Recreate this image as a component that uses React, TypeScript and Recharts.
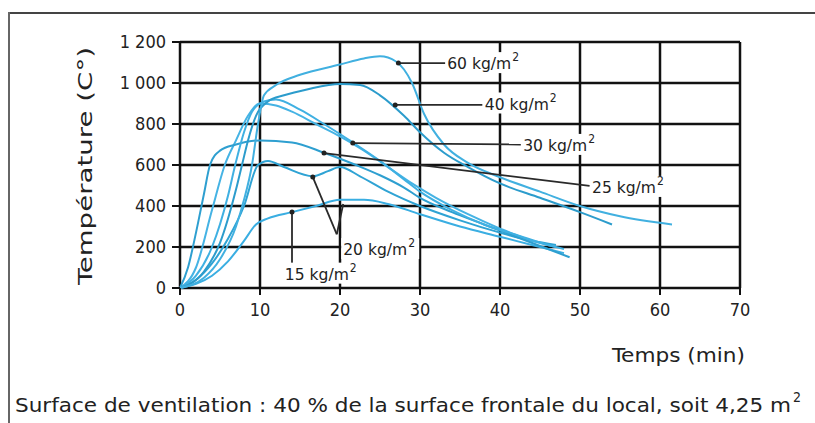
import { CartesianGrid, Line, LineChart, ReferenceDot, ReferenceLine, XAxis, YAxis } from "recharts";

// temps (min) / température (°C) pour chaque charge calorifique
const time15 = [0, 2, 4, 6, 8, 9.5, 11, 14, 17, 20, 23, 26, 30, 35, 40, 44, 48];
const temp15 = [0, 20, 60, 130, 230, 310, 340, 370, 400, 430, 430, 410, 360, 300, 250, 210, 170];

const time20 = [0, 2, 4, 6, 8, 9.75, 11, 13, 16.6, 18.5, 20, 22.5, 26, 30, 35, 40, 44, 47];
const temp20 = [0, 40, 120, 240, 400, 600, 620, 590, 545, 570, 590, 545, 470, 400, 330, 270, 230, 210];

const time20b = [0, 2, 4, 5.6, 7, 8.5, 10, 12, 14, 17, 20, 23, 26, 29, 32, 36, 40, 44, 47];
const temp20b = [0, 100, 380, 600, 720, 840, 900, 890, 860, 800, 740, 670, 590, 510, 440, 360, 290, 230, 200];

const time25 = [0, 1, 2, 3, 3.75, 5, 7, 10, 14, 18, 22, 25, 28, 30, 34, 38, 42, 46, 48.7];
const temp25 = [0, 100, 270, 460, 600, 670, 700, 720, 710, 660, 600, 550, 490, 440, 370, 310, 250, 190, 150];

const time30 = [0, 2, 4, 6, 6.9, 8, 9, 10.5, 12, 15, 18, 21.6, 25, 28, 30, 34, 38, 42, 46, 48];
const temp30 = [0, 60, 200, 450, 600, 760, 860, 910, 920, 870, 800, 710, 620, 530, 470, 380, 310, 260, 210, 190];

const time40 = [0, 3, 5, 7, 7.75, 8.5, 9.5, 11, 13, 16, 20, 22.5, 25, 28, 30, 33, 36, 40, 45, 50, 54];
const temp40 = [0, 80, 220, 480, 600, 720, 840, 910, 940, 970, 995, 990, 940, 840, 760, 660, 590, 510, 440, 370, 310];

const time60 = [0, 3, 5, 7, 8, 9, 9.75, 10.5, 12, 15, 20, 23, 25, 27, 29, 30.5, 33, 36, 40, 45, 50, 55, 61.5];
const temp60 = [0, 50, 140, 300, 430, 600, 800, 940, 990, 1040, 1090, 1120, 1130, 1105, 1000, 850, 700, 610, 540, 470, 400, 350, 310];

const xTicks = [0, 10, 20, 30, 40, 50, 60, 70];
const yTicks = [0, 200, 400, 600, 800, 1000, 1200];
const yTickLabels = ["0", "200", "400", "600", "800", "1 000", "1 200"];

const series = [
  { key: "15", t: time15, v: temp15, color: "#3aaee2" },
  { key: "20", t: time20, v: temp20, color: "#2fa3d4" },
  { key: "20b", t: time20b, v: temp20b, color: "#45b3e4" },
  { key: "25", t: time25, v: temp25, color: "#2e9fd0" },
  { key: "30", t: time30, v: temp30, color: "#3fb0e2" },
  { key: "40", t: time40, v: temp40, color: "#2c9ccc" },
  { key: "60", t: time60, v: temp60, color: "#41b0e0" },
];

// lignes de rappel : point sur la courbe -> étiquette
const leaders = [
  { name: "60", from: [27.3, 1097], to: [33.2, 1097], text: [33.4, 1097] },
  { name: "40", from: [26.9, 893], to: [37.8, 893], text: [38.1, 900] },
  { name: "30", from: [21.6, 707], to: [42.6, 700], text: [42.9, 698] },
  { name: "25", from: [18, 658], to: [51.2, 498], text: [51.5, 493] },
  { name: "20", from: [16.6, 541], to: [19.6, 262], text: [20.4, 190] },
  { name: "15", from: [14, 371], to: [14, 122], text: [13.1, 70] },
];
const extraLeader = { from: [20.4, 410], to: [19.6, 262] };

const FONT = "'DejaVu Sans Condensed', 'Liberation Sans Narrow', 'Arial Narrow', sans-serif";

const labelFor = (name: string) => (props: any) => {
  const vb = props.viewBox || {};
  const x = (vb.x ?? 0) + (vb.width ?? 0) / 2;
  const y = (vb.y ?? 0) + (vb.height ?? 0) / 2;
  return (
    <g>
      <rect x={x - 2} y={y - 11} width={78} height={21} fill="#fff" />
      <text x={x} y={y + 6} fontFamily={FONT} fontSize={16} fill="#222" textLength={64} lengthAdjust="spacingAndGlyphs">
        {name} kg/m
      </text>
      <text x={x + 65} y={y - 2} fontFamily={FONT} fontSize={12} fill="#222">
        2
      </text>
    </g>
  );
};

export default function App() {
  return (
    <div style={{ position: "absolute", left: 0, top: 0, width: 815, height: 423, background: "#fff", overflow: "hidden" }}>
      <div style={{ position: "absolute", left: 8, top: 12, width: 807, height: 2, background: "#444" }} />
      <div style={{ position: "absolute", left: 8, top: 12, width: 2, height: 411, background: "#666" }} />
      <LineChart width={815} height={423} margin={{ top: 42, right: 75, left: 120, bottom: 105 }}>
        <CartesianGrid stroke="#111" strokeWidth={2.5} />
        <XAxis
          type="number"
          dataKey="t"
          domain={[0, 70]}
          ticks={xTicks}
          height={30}
          axisLine={false}
          tickSize={7}
          tickLine={{ stroke: "#111", strokeWidth: 2 }}
          tick={{ fill: "#222", fontSize: 18, fontFamily: FONT, dy: 6 }}
          allowDuplicatedCategory={false}
        />
        <YAxis
          type="number"
          domain={[0, 1200]}
          ticks={yTicks}
          width={60}
          axisLine={false}
          tickSize={8}
          tickLine={{ stroke: "#111", strokeWidth: 2 }}
          tick={{ fill: "#222", fontSize: 18, fontFamily: FONT, dx: -4 }}
          tickFormatter={(v: number) => yTickLabels[yTicks.indexOf(v)]}
        />
        {series.map((s) => (
          <Line
            key={s.key}
            data={s.t.map((t, i) => ({ t, v: s.v[i] }))}
            dataKey="v"
            type="monotone"
            stroke={s.color}
            strokeWidth={2}
            dot={false}
            isAnimationActive={false}
          />
        ))}
        {leaders.map((l) => (
          <ReferenceLine
            key={"l" + l.name}
            segment={[
              { x: l.from[0], y: l.from[1] },
              { x: l.to[0], y: l.to[1] },
            ]}
            stroke="#2a2a2a"
            strokeWidth={1.8}
          />
        ))}
        <ReferenceLine
          segment={[
            { x: extraLeader.from[0], y: extraLeader.from[1] },
            { x: extraLeader.to[0], y: extraLeader.to[1] },
          ]}
          stroke="#2a2a2a"
          strokeWidth={1.8}
        />
        {leaders.map((l) => (
          <ReferenceDot key={"d" + l.name} x={l.from[0]} y={l.from[1]} r={2.5} fill="#222" stroke="none" />
        ))}
        {leaders.map((l) => (
          <ReferenceDot
            key={"t" + l.name}
            x={l.text[0]}
            y={l.text[1]}
            r={0.5}
            fill="none"
            stroke="none"
            label={labelFor(l.name)}
          />
        ))}
      </LineChart>
      <svg width={815} height={423} style={{ position: "absolute", left: 0, top: 0, pointerEvents: "none" }}>
        <text
          transform="translate(92,166) rotate(-90)"
          textAnchor="middle"
          fontFamily={FONT}
          fontSize={19}
          fill="#222"
          textLength={238}
          lengthAdjust="spacingAndGlyphs"
        >
          Température (C°)
        </text>
        <text x={612} y={362} fontFamily={FONT} fontSize={20} fill="#222" textLength={133} lengthAdjust="spacingAndGlyphs">
          Temps (min)
        </text>
        <text x={15} y={412} fontFamily={FONT} fontSize={20} fill="#222" textLength={776} lengthAdjust="spacingAndGlyphs">
          Surface de ventilation : 40 % de la surface frontale du local, soit 4,25 m
        </text>
        <text x={793} y={402} fontFamily={FONT} fontSize={14} fill="#222">
          2
        </text>
      </svg>
    </div>
  );
}
